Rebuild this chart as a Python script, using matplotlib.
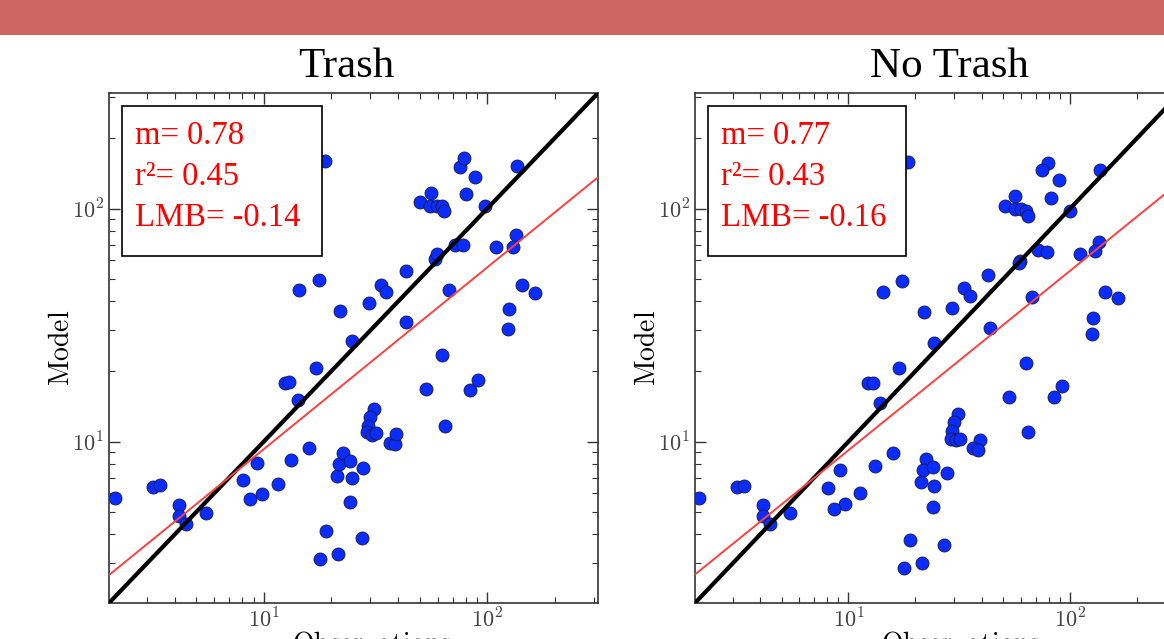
import numpy as np
import matplotlib
matplotlib.use('Agg')
import matplotlib.pyplot as plt
from matplotlib.patches import Rectangle
from matplotlib.ticker import FuncFormatter

plt.rcParams['mathtext.fontset'] = 'cm'

# Trash panel: observations vs model
trash_obs = [2.15, 3.20, 3.45, 4.17, 4.17, 4.51, 5.50, 8.11, 9.34, 8.69,
             9.79, 11.6, 12.4, 13.0, 13.3, 14.2, 14.4, 17.6, 16.0, 17.2,
             18.8, 17.8, 19.0, 21.5, 22.0, 21.2, 21.7, 22.7, 24.3, 24.7,
             24.2, 24.9, 27.4, 27.9, 29.5, 31.2, 29.8, 29.4, 29.0, 30.6,
             31.7, 33.3, 35.4, 36.6, 38.5, 39.0, 43.1, 43.5, 50.2, 56.1,
             55.7, 59.7, 63.0, 64.3, 53.1, 58.5, 59.4, 63.0, 64.4, 67.1,
             71.6, 77.8, 75.2, 78.5, 80.7, 87.9, 83.6, 91.2, 98.0, 109,
             125, 124, 130, 134, 136, 143, 163]
trash_model = [5.75, 6.37, 6.49, 5.37, 4.81, 4.42, 4.95, 6.81, 8.07, 5.65,
               5.97, 6.58, 17.9, 18.0, 8.32, 15.1, 44.5, 49.5, 9.40, 20.6,
               160, 3.12, 4.12, 3.28, 36.5, 7.15, 8.02, 8.91, 8.28, 6.95,
               5.49, 26.9, 3.85, 7.68, 39.4, 13.8, 12.8, 11.7, 10.96, 10.7,
               10.86, 47.2, 43.9, 9.90, 9.73, 10.8, 54.2, 32.5, 107, 116,
               103, 103, 102, 98, 16.8, 60.8, 63.5, 23.6, 11.7, 44.5,
               69.8, 70.0, 151, 164, 115, 137, 16.7, 18.4, 103, 68.5,
               37.0, 30.3, 68.5, 76.6, 152, 47.2, 43.2]

# No Trash panel
notrash_obs = [18.5, 14.3, 17.5, 21.9, 24.4, 79.6, 74.8, 136, 88.9, 56.2,
               81.7, 50.6, 56.1, 60.1, 63.3, 64.4, 99.4, 135, 71.5, 78.3,
               111, 130, 59.4, 58.5, 42.6, 33.3, 35.2, 67.5, 144, 164,
               29.2, 127, 126, 43.5, 16.9, 12.3, 12.9, 13.9, 15.8, 13.2,
               9.20, 8.07, 11.3, 9.69, 8.56, 3.13, 3.38, 2.11, 4.10, 4.10,
               4.43, 5.42, 22.4, 21.7, 24.1, 21.3, 24.4, 24.1, 19.0, 17.8,
               21.4, 63.3, 52.8, 84.3, 91.8, 64.4, 31.3, 29.8, 29.2, 29.0,
               30.6, 31.7, 39.2, 36.5, 38.3, 27.7, 27.0]
notrash_model = [159, 43.7, 49.1, 35.9, 26.4, 157, 147, 147, 133, 113,
                 111, 103, 99.7, 99.1, 98.0, 93.1, 98.0, 72.1, 66.5, 65.3,
                 64.1, 65.6, 59.4, 58.2, 52.1, 45.5, 42.1, 41.6, 43.7, 41.4,
                 37.6, 34.0, 28.9, 30.8, 20.6, 17.8, 17.9, 14.6, 8.94, 7.87,
                 7.53, 6.30, 6.03, 5.42, 5.12, 6.37, 6.47, 5.75, 5.37, 4.80,
                 4.41, 4.95, 8.40, 7.56, 7.81, 6.68, 6.47, 5.22, 3.77, 2.88,
                 3.01, 21.8, 15.6, 15.6, 17.4, 10.96, 13.1, 12.1, 11.1, 10.3,
                 10.2, 10.3, 10.2, 9.36, 9.21, 7.31, 3.59]

titles = ['Trash', 'No Trash']
slopes = [0.78, 0.77]
r2 = [0.45, 0.43]
lmb = [-0.14, -0.16]
fit_coef = [1.54, 1.56]   # y = c * x**m for the red fit line
lims = (2.03, 313)

W, H = 1164, 639
fig = plt.figure(figsize=(W / 100, H / 100), dpi=100)

# slide header bar
fig.patches.append(Rectangle((0, 1 - 35 / H), 1, 35 / H, transform=fig.transFigure,
                             facecolor='#CD6660', edgecolor='none', zorder=0))

panels = [(109, 489, trash_obs, trash_model, 346, 0.538),
          (695, 485, notrash_obs, notrash_model, 950, 0.548)]

decade_fmt = FuncFormatter(lambda v, p: r'$10^{%d}$' % round(np.log10(v)))

for i, (left, width, obs, mod, title_x, xlab_x) in enumerate(panels):
    ax = fig.add_axes([left / W, 1 - 603 / H, width / W, 510 / H])
    ax.set_xscale('log')
    ax.set_yscale('log')
    ax.set_xlim(lims)
    ax.set_ylim(lims)
    ax.xaxis.set_major_formatter(decade_fmt)
    ax.yaxis.set_major_formatter(decade_fmt)

    ax.scatter(obs, mod, s=88, c='#0a2cff', edgecolors='#1a1a40', linewidths=0.6, zorder=2)
    ax.plot(lims, lims, color='black', lw=3, zorder=3)
    xx = np.array(lims)
    ax.plot(xx, fit_coef[i] * xx ** slopes[i], color='#ff4040', lw=1.4, zorder=3)

    ax.tick_params(which='both', direction='in', top=True, right=True,
                   labelsize=16, labelcolor='#444444', color='#333333')
    ax.tick_params(which='major', length=8, width=1)
    ax.tick_params(which='minor', length=4, width=0.8)
    for sp in ax.spines.values():
        sp.set_linewidth(1.2)
        sp.set_color('#333333')

    ax.set_ylabel(r'$\mathrm{Model}$', fontsize=20)
    ax.yaxis.set_label_coords(-34 / width, 0.5)
    ax.set_xlabel(r'$\mathrm{Observations}$', fontsize=20)
    ax.xaxis.set_label_coords(xlab_x, -26 / 510)
    ax.xaxis.label.set_va('top')

    # stats box
    ax.add_patch(Rectangle((0.0266, 0.6804), 0.409, 0.2941, transform=ax.transAxes,
                           facecolor='white', edgecolor='black', lw=1.2, zorder=4))
    txt = 'm= %.2f\nr\u00b2= %.2f\nLMB= %.2f' % (slopes[i], r2[i], lmb[i])
    ax.text(0.053, 0.946, txt, transform=ax.transAxes, color='red', fontsize=23.5,
            family='Liberation Serif', va='top', ha='left', linespacing=1.45, zorder=5)

    fig.text(title_x / W, 1 - 77 / H, titles[i], fontsize=31, family='Liberation Serif',
             ha='center', va='baseline')

fig.savefig('out.png', dpi=100)
